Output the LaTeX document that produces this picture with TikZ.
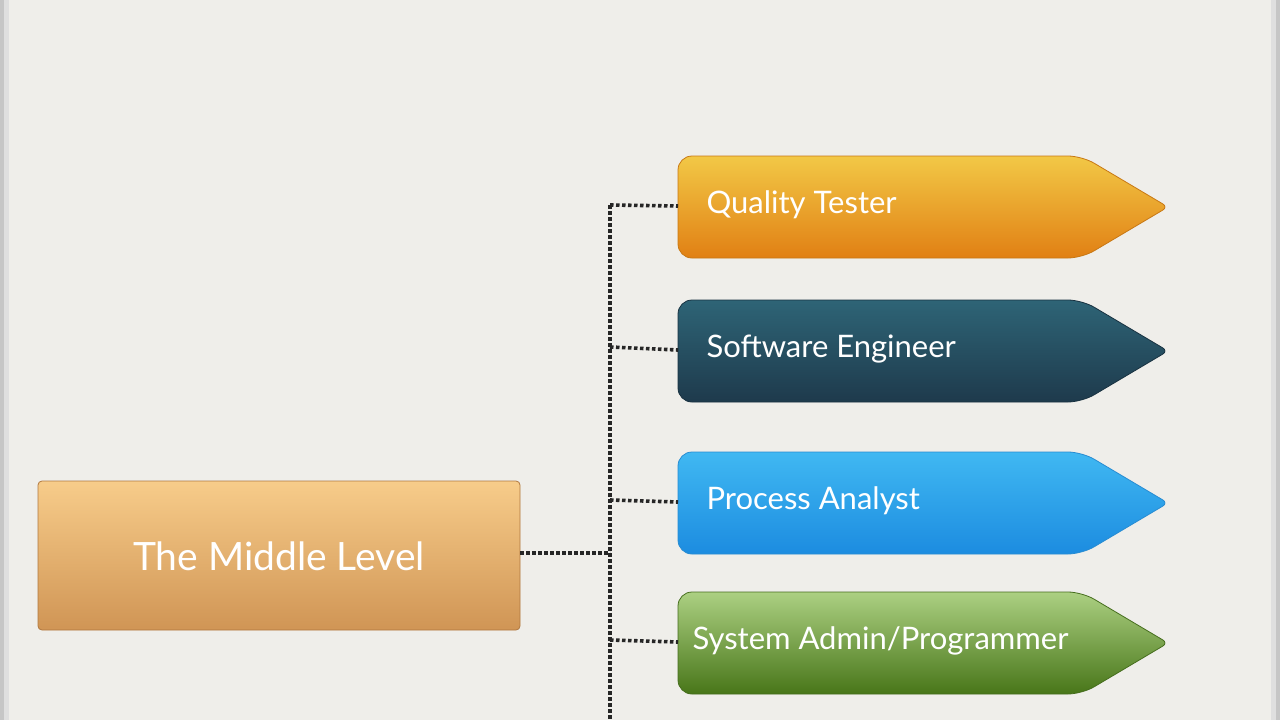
\documentclass[tikz,border=0pt]{standalone}
\usepackage{fontspec}
\setmainfont{Lato}
\definecolor{bgc}{RGB}{239,238,234}
\definecolor{qta}{RGB}{242,200,70}\definecolor{qtb}{RGB}{225,128,20}\definecolor{qtc}{RGB}{200,120,20}
\definecolor{sea}{RGB}{46,100,118}\definecolor{seb}{RGB}{30,58,76}\definecolor{sec}{RGB}{25,50,65}
\definecolor{paa}{RGB}{64,184,242}\definecolor{pab}{RGB}{28,140,224}\definecolor{pac}{RGB}{40,140,210}
\definecolor{saa}{RGB}{172,208,130}\definecolor{sab}{RGB}{72,118,25}\definecolor{sac}{RGB}{70,110,30}
\definecolor{mla}{RGB}{247,204,138}\definecolor{mlb}{RGB}{208,149,85}\definecolor{mlc}{RGB}{176,120,64}
\begin{document}
\begin{tikzpicture}[x=1pt,y=-1pt,
  lbl/.style={text=white,font=\fontsize{31}{34}\selectfont,anchor=west},
  conn/.style={draw=black!85,line width=3.6pt,dash pattern=on 3.5pt off 2.5pt}]
\useasboundingbox (0,0) rectangle (1280,720);
\fill[gray!45] (0,0) rectangle (1280,720);
\fill[gray!25] (4,0) rectangle (1276,720);
\fill[bgc] (9,0) rectangle (1271,720);
\newcommand{\arrowbox}[7]{%
  \shade[top color=#2,bottom color=#3,draw=#4,line width=0.8pt,rounded corners=14pt]
    (678,#1) -- (1082,#1) [rounded corners=6pt]-- (1168,#1+51) [rounded corners=14pt]-- (1082,#1+102) -- (678,#1+102) -- cycle;
  \node[lbl] (#5) at (#7,#1+49) {#6};
  \coordinate (#5w) at (678,#1+50);}
\arrowbox{156}{qta}{qtb}{qtc}{qt}{Quality Tester}{703}
\arrowbox{300}{sea}{seb}{sec}{se}{Software Engineer}{703}
\arrowbox{452}{paa}{pab}{pac}{pa}{Process Analyst}{703}
\arrowbox{592}{saa}{sab}{sac}{sa}{System Admin/Programmer}{689}
\shade[top color=mla,bottom color=mlb,draw=mlc,line width=0.8pt,rounded corners=4pt] (38,481) rectangle (520,630);
\node[text=white,font=\fontsize{39}{42}\selectfont] (ml) at (279,556) {The Middle Level};
\coordinate (mle) at (520,553);
\coordinate (top) at (610,205);
\coordinate (bot) at (610,720);
\draw[conn] (top) -- (bot);
\draw[conn] (mle) -- (610,553);
\draw[conn] (top) -- (qtw);
\draw[conn] (610,347) -- (sew);
\draw[conn] (610,500) -- (paw);
\draw[conn] (610,640) -- (saw);
\end{tikzpicture}
\end{document}
